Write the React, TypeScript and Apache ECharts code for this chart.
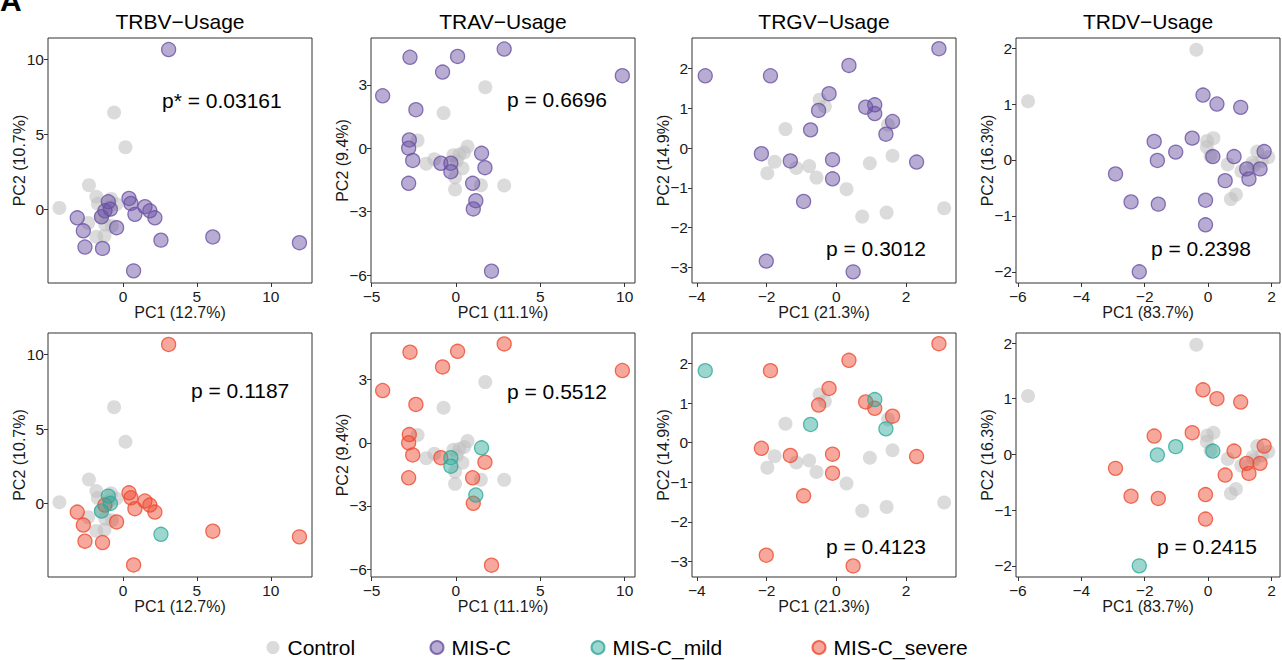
import React, { useEffect, useRef } from "react";
import * as echarts from "echarts";

const FONT = "'Liberation Sans', Arial, Helvetica, sans-serif";

const panelTitles = ["TRBV\u2212Usage", "TRAV\u2212Usage", "TRGV\u2212Usage", "TRDV\u2212Usage"];
const pc1Labels = ["PC1 (12.7%)", "PC1 (11.1%)", "PC1 (21.3%)", "PC1 (83.7%)"];
const pc2Labels = ["PC2 (10.7%)", "PC2 (9.4%)", "PC2 (14.9%)", "PC2 (16.3%)"];
const pTopLabels = ["p* = 0.03161", "p = 0.6696", "p = 0.3012", "p = 0.2398"];
const pBottomLabels = ["p = 0.1187", "p = 0.5512", "p = 0.4123", "p = 0.2415"];

const xTicks = [[0, 5, 10], [-5, 0, 5, 10], [-4, -2, 0, 2], [-6, -4, -2, 0, 2]];
const yTicks = [[0, 5, 10], [-6, -3, 0, 3], [-3, -2, -1, 0, 1, 2], [-2, -1, 0, 1, 2]];
const xRanges = [[-5.07, 12.79], [-5.03, 10.61], [-4.14, 3.43], [-6.06, 2.27]];
const yRanges = [[-4.91, 11.44], [-6.37, 5.21], [-3.39, 2.77], [-2.2, 2.18]];

// TRBV
const trbvControl = [
  [-0.6, 6.47], [0.17, 4.15], [-2.3, 1.62], [-4.3, 0.1], [-1.8, 0.85], [-1.7, 0.38],
  [-0.8, 0.7], [-0.45, 0.35], [-0.95, 0.15], [-2.35, -0.9], [-1.8, -1.82], [-1.25, -1.75],
  [-0.75, -1.1], [-1.2, -1.0], [-1.5, -0.5],
];
const trbvMisc = [
  [3.09, 10.67], [6.08, -1.84], [11.94, -2.22], [-0.99, 0.51], [-1.22, -0.09], [-0.85, 0.02],
  [-1.45, -0.49], [-3.09, -0.56], [-2.68, -1.43], [-2.57, -2.51], [-1.38, -2.6], [-0.43, -1.22],
  [0.41, 0.73], [0.54, 0.4], [0.81, -0.33], [1.49, 0.18], [1.82, -0.09], [2.16, -0.56],
  [2.57, -2.05], [0.72, -4.1],
];
const trbvGroup = ["S", "S", "S", "M", "S", "M", "M", "S", "S", "S", "S", "S", "S", "S", "S", "S", "S", "S", "M", "S"];

// TRAV
const travControl = [
  [1.74, 2.88], [-0.73, 1.66], [-2.27, 0.37], [-1.28, -0.52], [-1.76, -0.73], [0.69, 0.08],
  [0.49, -0.2], [0.2, -0.3], [-0.15, -0.33], [0.05, -0.6], [0.39, -0.95], [-0.05, -1.38],
  [-0.05, -1.95], [1.48, -1.75], [2.86, -1.76],
];
const travMisc = [
  [2.86, 4.69], [-2.72, 4.3], [0.1, 4.34], [-0.79, 3.6], [9.86, 3.43], [-4.34, 2.48],
  [-2.37, 1.82], [-2.76, 0.39], [-2.8, 0.0], [-2.56, -0.58], [-2.8, -1.66], [-0.89, -0.71],
  [-0.3, -0.71], [-0.3, -1.11], [1.52, -0.24], [1.72, -0.92], [0.99, -1.66], [1.18, -2.48],
  [1.03, -2.87], [2.11, -5.81],
];
const travGroup = ["S", "S", "S", "S", "S", "S", "S", "S", "S", "S", "S", "S", "M", "M", "M", "S", "S", "M", "S", "S"];

// TRGV
const trgvControl = [
  [-0.48, 1.22], [-0.33, 1.05], [-1.46, 0.48], [-1.77, -0.34], [-1.98, -0.63], [-1.15, -0.5],
  [-0.78, -0.45], [-0.57, -0.74], [0.29, -1.03], [0.96, -0.38], [1.61, -0.19], [1.48, 0.59],
  [0.74, -1.72], [1.44, -1.62], [3.09, -1.51],
];
const trgvMisc = [
  [2.94, 2.5], [-3.76, 1.82], [-1.89, 1.82], [0.36, 2.08], [-0.21, 1.37], [-0.51, 0.95],
  [0.84, 1.03], [1.1, 1.09], [1.1, 0.87], [1.61, 0.67], [1.42, 0.35], [-0.74, 0.46],
  [-2.15, -0.14], [-1.32, -0.32], [-0.11, -0.29], [-0.11, -0.77], [2.3, -0.35], [-0.94, -1.34],
  [-2.01, -2.84], [0.48, -3.11],
];
const trgvGroup = ["S", "M", "S", "S", "S", "S", "S", "M", "S", "S", "M", "M", "S", "S", "S", "S", "S", "S", "S", "S"];

// TRDV
const trdvControl = [
  [-0.37, 1.97], [-5.68, 1.05], [-0.03, 0.34], [0.17, 0.39], [-0.04, 0.23], [0.08, 0.07],
  [0.62, -0.08], [1.05, -0.2], [1.4, -0.05], [1.55, 0.15], [1.9, 0.05], [0.88, -0.62],
  [0.72, -0.7], [1.7, -0.02], [1.45, -0.1],
];
const trdvMisc = [
  [-0.16, 1.16], [0.28, 1.0], [1.03, 0.94], [-1.7, 0.33], [-0.5, 0.39], [-1.02, 0.14],
  [-1.6, -0.01], [0.15, 0.06], [0.82, 0.06], [1.77, 0.15], [1.64, -0.16], [1.22, -0.16],
  [1.29, -0.34], [0.54, -0.37], [-0.08, -0.72], [-0.08, -1.16], [-2.92, -0.25], [-2.43, -0.75],
  [-1.57, -0.79], [-2.17, -2.0],
];
const trdvGroup = ["S", "S", "S", "S", "S", "M", "M", "M", "S", "S", "S", "S", "S", "S", "S", "S", "S", "S", "S", "M"];

const controls = [trbvControl, travControl, trgvControl, trdvControl];
const miscs = [trbvMisc, travMisc, trgvMisc, trdvMisc];
const groups = [trbvGroup, travGroup, trgvGroup, trdvGroup];

const legendNames = ["Control", "MIS-C", "MIS-C_mild", "MIS-C_severe"];

const STYLE: Record<string, any> = {
  Control: { color: "rgba(190,190,190,0.7)", borderColor: "rgba(190,190,190,0)", borderWidth: 0 },
  "MIS-C": { color: "rgba(106,81,163,0.6)", borderColor: "#6a51a3", borderWidth: 1.3 },
  "MIS-C_mild": { color: "rgba(48,169,155,0.6)", borderColor: "#30a99b", borderWidth: 1.3 },
  "MIS-C_severe": { color: "rgba(238,74,48,0.6)", borderColor: "#ee4a30", borderWidth: 1.3 },
};

const GRID_LEFT = [48, 371, 692, 1016];
const GRID_TOP = [38, 333];
const GRID_W = 264;
const GRID_H = [245, 244];

const P_POS_TOP = [[162, 100], [507, 99], [826, 248], [1151, 248]];
const P_POS_BOTTOM = [[191, 390], [507, 391], [826, 546], [1157, 546]];
const LEGEND_LEFT = [266.5, 429.5, 590.5, 811.5];

const minusFmt = (v: number) => String(v).replace("-", "\u2212");

function buildOption() {
  const grid: any[] = [];
  const xAxis: any[] = [];
  const yAxis: any[] = [];
  const series: any[] = [];
  const graphic: any[] = [];

  for (let row = 0; row < 2; row++) {
    for (let c = 0; c < 4; c++) {
      const gi = row * 4 + c;
      grid.push({
        left: GRID_LEFT[c],
        top: GRID_TOP[row],
        width: GRID_W,
        height: GRID_H[row],
        show: true,
        borderColor: "#333",
        borderWidth: 1,
        backgroundColor: "#fff",
        containLabel: false,
      });
      xAxis.push({
        type: "value",
        gridIndex: gi,
        position: "bottom",
        min: xRanges[c][0],
        max: xRanges[c][1],
        axisLine: { show: false, onZero: false },
        splitLine: { show: false },
        axisTick: { show: true, length: 4, customValues: xTicks[c], lineStyle: { color: "#333" } },
        axisLabel: {
          customValues: xTicks[c],
          formatter: minusFmt,
          fontSize: 15.5,
          color: "#1a1a1a",
          margin: 5,
          fontFamily: FONT,
        },
        name: pc1Labels[c],
        nameLocation: "middle",
        nameGap: 21,
        nameMoveOverlap: false,
        nameTextStyle: { fontSize: 16, color: "#1a1a1a", fontFamily: FONT },
      });
      yAxis.push({
        type: "value",
        gridIndex: gi,
        position: "left",
        min: yRanges[c][0],
        max: yRanges[c][1],
        axisLine: { show: false, onZero: false },
        splitLine: { show: false },
        axisTick: { show: true, length: 4, customValues: yTicks[c], lineStyle: { color: "#333" } },
        axisLabel: {
          customValues: yTicks[c],
          formatter: minusFmt,
          fontSize: 15.5,
          color: "#1a1a1a",
          margin: 4,
          fontFamily: FONT,
        },
        name: pc2Labels[c],
        nameLocation: "middle",
        nameRotate: 90,
        nameGap: 21,
        nameMoveOverlap: false,
        nameTextStyle: { fontSize: 16, color: "#1a1a1a", fontFamily: FONT },
      });

      const base = {
        type: "scatter",
        xAxisIndex: gi,
        yAxisIndex: gi,
        symbol: "circle",
        symbolSize: 14,
      };
      series.push({ ...base, name: "Control", data: controls[c], itemStyle: STYLE.Control, z: 2 });
      if (row === 0) {
        series.push({ ...base, name: "MIS-C", data: miscs[c], itemStyle: STYLE["MIS-C"], z: 3 });
      } else {
        const sev = miscs[c].filter((_, k) => groups[c][k] === "S");
        const mild = miscs[c].filter((_, k) => groups[c][k] === "M");
        series.push({ ...base, name: "MIS-C_severe", data: sev, itemStyle: STYLE["MIS-C_severe"], z: 3 });
        series.push({ ...base, name: "MIS-C_mild", data: mild, itemStyle: STYLE["MIS-C_mild"], z: 4 });
      }

      const pos = row === 0 ? P_POS_TOP[c] : P_POS_BOTTOM[c];
      graphic.push({
        type: "text",
        x: pos[0],
        y: pos[1],
        z: 10,
        style: {
          text: row === 0 ? pTopLabels[c] : pBottomLabels[c],
          font: `21px ${FONT}`,
          fill: "#000",
          verticalAlign: "middle",
          align: "left",
        },
      });
    }
  }
  for (let c = 0; c < 4; c++) {
    graphic.push({
      type: "text",
      x: GRID_LEFT[c] + GRID_W / 2,
      y: 21,
      style: {
        text: panelTitles[c],
        font: `21px ${FONT}`,
        fill: "#000",
        align: "center",
        verticalAlign: "middle",
      },
    });
  }
  graphic.push({
    type: "text",
    x: 0,
    y: 0,
    style: { text: "A", font: `bold 30px ${FONT}`, fill: "#000", align: "left", verticalAlign: "middle" },
  });

  const legend = legendNames.map((n, k) => ({
    data: [n],
    left: LEGEND_LEFT[k],
    top: 637,
    padding: 0,
    icon: "circle",
    itemWidth: 13,
    itemHeight: 13,
    selectedMode: false,
    textStyle: { fontSize: 21, color: "#000", fontFamily: FONT, padding: [0, 0, 0, 3] },
  }));

  return {
    animation: false,
    backgroundColor: "#fff",
    textStyle: { fontFamily: FONT },
    grid,
    xAxis,
    yAxis,
    series,
    legend,
    graphic,
  };
}

export default function App() {
  const ref = useRef<HTMLDivElement>(null);
  useEffect(() => {
    if (!ref.current) return;
    const chart = echarts.init(ref.current, undefined, { renderer: "svg" });
    chart.setOption(buildOption() as any);
    return () => chart.dispose();
  }, []);
  return (
    <div
      ref={ref}
      style={{ position: "absolute", left: 0, top: 0, width: 1282, height: 660, background: "#fff" }}
    />
  );
}
